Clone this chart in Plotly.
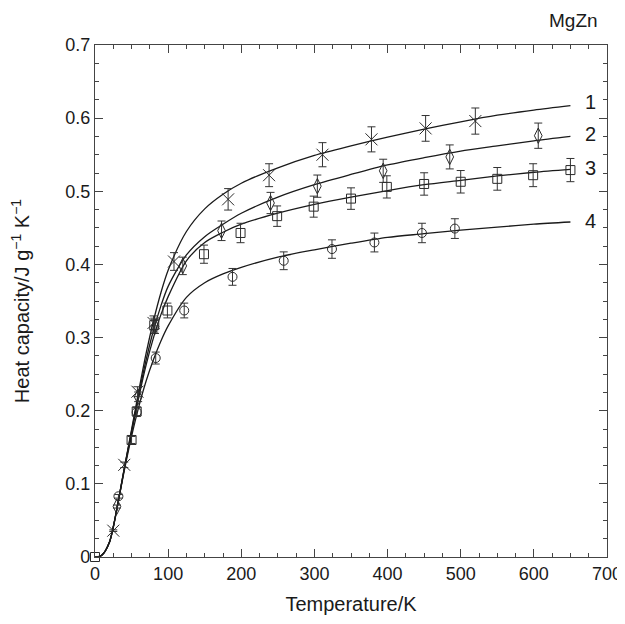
import plotly.graph_objects as go

# ---- measured points (Temperature / K, Heat capacity / J g^-1 K^-1)
t1 = [25, 40, 58, 80, 108, 182, 238, 311, 378, 452, 520]
c1 = [0.036, 0.126, 0.226, 0.320, 0.404, 0.489, 0.522, 0.550, 0.571, 0.586, 0.596]

t2 = [30, 59, 82, 120, 173, 240, 304, 394, 485, 606]
c2 = [0.069, 0.219, 0.315, 0.398, 0.446, 0.484, 0.507, 0.528, 0.547, 0.576]

t3 = [0, 50, 57, 81, 99, 149, 199, 249, 299, 350, 399, 450, 500, 550, 599, 650]
c3 = [0.0, 0.160, 0.199, 0.317, 0.337, 0.414, 0.443, 0.466, 0.479, 0.490, 0.506, 0.510, 0.513, 0.517, 0.522, 0.529]

t4 = [32, 57, 83, 122, 188, 258, 324, 382, 447, 492]
c4 = [0.083, 0.198, 0.272, 0.337, 0.383, 0.405, 0.421, 0.430, 0.443, 0.449]

# ---- fitted curves
tc = [0, 5, 10, 20, 25, 30, 40, 50, 60, 70, 80, 90, 100, 125, 150, 175, 200, 250, 300, 350, 400, 450, 500, 550, 600, 650]
f1 = [0, 0.0005, 0.003, 0.021, 0.041, 0.066, 0.121, 0.174, 0.228, 0.279, 0.323, 0.361, 0.392, 0.445, 0.476, 0.496, 0.511, 0.532, 0.549, 0.562, 0.574, 0.585, 0.595, 0.604, 0.611, 0.617]
f2 = [0, 0.0005, 0.003, 0.021, 0.041, 0.066, 0.121, 0.172, 0.223, 0.270, 0.310, 0.343, 0.370, 0.413, 0.438, 0.455, 0.470, 0.492, 0.509, 0.523, 0.536, 0.546, 0.555, 0.562, 0.569, 0.575]
f3 = [0, 0.0005, 0.003, 0.021, 0.041, 0.066, 0.120, 0.170, 0.219, 0.263, 0.300, 0.331, 0.356, 0.405, 0.430, 0.444, 0.455, 0.470, 0.482, 0.492, 0.501, 0.509, 0.515, 0.521, 0.526, 0.530]
f4 = [0, 0.0005, 0.003, 0.021, 0.041, 0.066, 0.118, 0.165, 0.206, 0.241, 0.270, 0.295, 0.316, 0.355, 0.375, 0.387, 0.396, 0.410, 0.420, 0.429, 0.437, 0.442, 0.447, 0.451, 0.455, 0.458]

labels = ["1", "2", "3", "4"]
label_y = [0.622, 0.579, 0.532, 0.460]

x_ticks = [0, 100, 200, 300, 400, 500, 600, 700]
y_ticks = [0, 0.1, 0.2, 0.3, 0.4, 0.5, 0.6, 0.7]
y_ticktext = ["0", "0.1", "0.2", "0.3", "0.4", "0.5", "0.6", "0.7"]

INK = "#1a1a1a"
AX = "#444444"
FONT = "Liberation Sans, Arial, sans-serif"

fig = go.Figure()

for f in (f1, f2, f3, f4):
    fig.add_trace(go.Scatter(x=tc, y=f, mode="lines",
                             line=dict(color=INK, width=1.3, shape="spline", smoothing=0.8),
                             showlegend=False, hoverinfo="skip"))

err = dict(type="percent", value=3, color="#333333", thickness=1, width=4)
series = [
    (t1, c1, "x-thin-open", 12),
    (t2, c2, "diamond-tall-open", 11),
    (t3, c3, "square-open", 9),
    (t4, c4, "circle-open", 9),
]
for tx, cy, sym, sz in series:
    fig.add_trace(go.Scatter(x=tx, y=cy, mode="markers",
                             marker=dict(symbol=sym, size=sz, color="#2a2a2a",
                                         line=dict(width=1, color="#2a2a2a")),
                             error_y=err, cliponaxis=False, showlegend=False))

for lab, ly in zip(labels, label_y):
    fig.add_annotation(x=677, y=ly, xref="x", yref="y", text=lab, showarrow=False,
                       font=dict(size=20, color=INK, family=FONT), xanchor="center", yanchor="middle")

fig.add_annotation(x=0.987, y=1.047, xref="paper", yref="paper", text="MgZn", showarrow=False,
                   font=dict(size=19, color=INK, family=FONT), xanchor="right", yanchor="middle")

common = dict(showline=True, linecolor=AX, linewidth=1.2,
              ticks="inside", ticklen=8, tickwidth=1, tickcolor=AX,
              showgrid=False, zeroline=False, automargin=False)

fig.update_layout(
    xaxis=dict(range=[0, 700], tickvals=x_ticks,
               minor=dict(dtick=25, ticks="inside", ticklen=4, tickcolor=AX, showgrid=False),
               tickfont=dict(size=18, color=INK, family=FONT),
               ticklabeloverflow="allow",
               title=dict(text="Temperature/K", font=dict(size=20, color=INK, family=FONT), standoff=14),
               **common),
    yaxis=dict(range=[0, 0.7], tickvals=y_ticks, ticktext=y_ticktext,
               minor=dict(dtick=0.025, ticks="inside", ticklen=4, tickcolor=AX, showgrid=False),
               tickfont=dict(size=18, color=INK, family=FONT),
               title=dict(text="Heat capacity/J g<sup>\u22121</sup> K<sup>\u22121</sup>",
                          font=dict(size=20, color=INK, family=FONT), standoff=30),
               **common),
    xaxis2=dict(range=[0, 700], overlaying="x", side="top", tickvals=x_ticks,
                showticklabels=False,
                minor=dict(dtick=25, ticks="inside", ticklen=4, tickcolor=AX, showgrid=False),
                **common),
    yaxis2=dict(range=[0, 0.7], overlaying="y", side="right", tickvals=y_ticks,
                showticklabels=False,
                minor=dict(dtick=0.025, ticks="inside", ticklen=4, tickcolor=AX, showgrid=False),
                **common),
)
# invisible trace so the top/right axes are drawn
fig.add_trace(go.Scatter(x=[None], y=[None], xaxis="x2", yaxis="y2", showlegend=False, hoverinfo="skip"))

fig.update_layout(width=617, height=616,
                  margin=dict(l=87, r=18, t=37, b=67),
                  paper_bgcolor="white", plot_bgcolor="white",
                  font=dict(family=FONT, color=INK))

fig.write_html("out.html")
